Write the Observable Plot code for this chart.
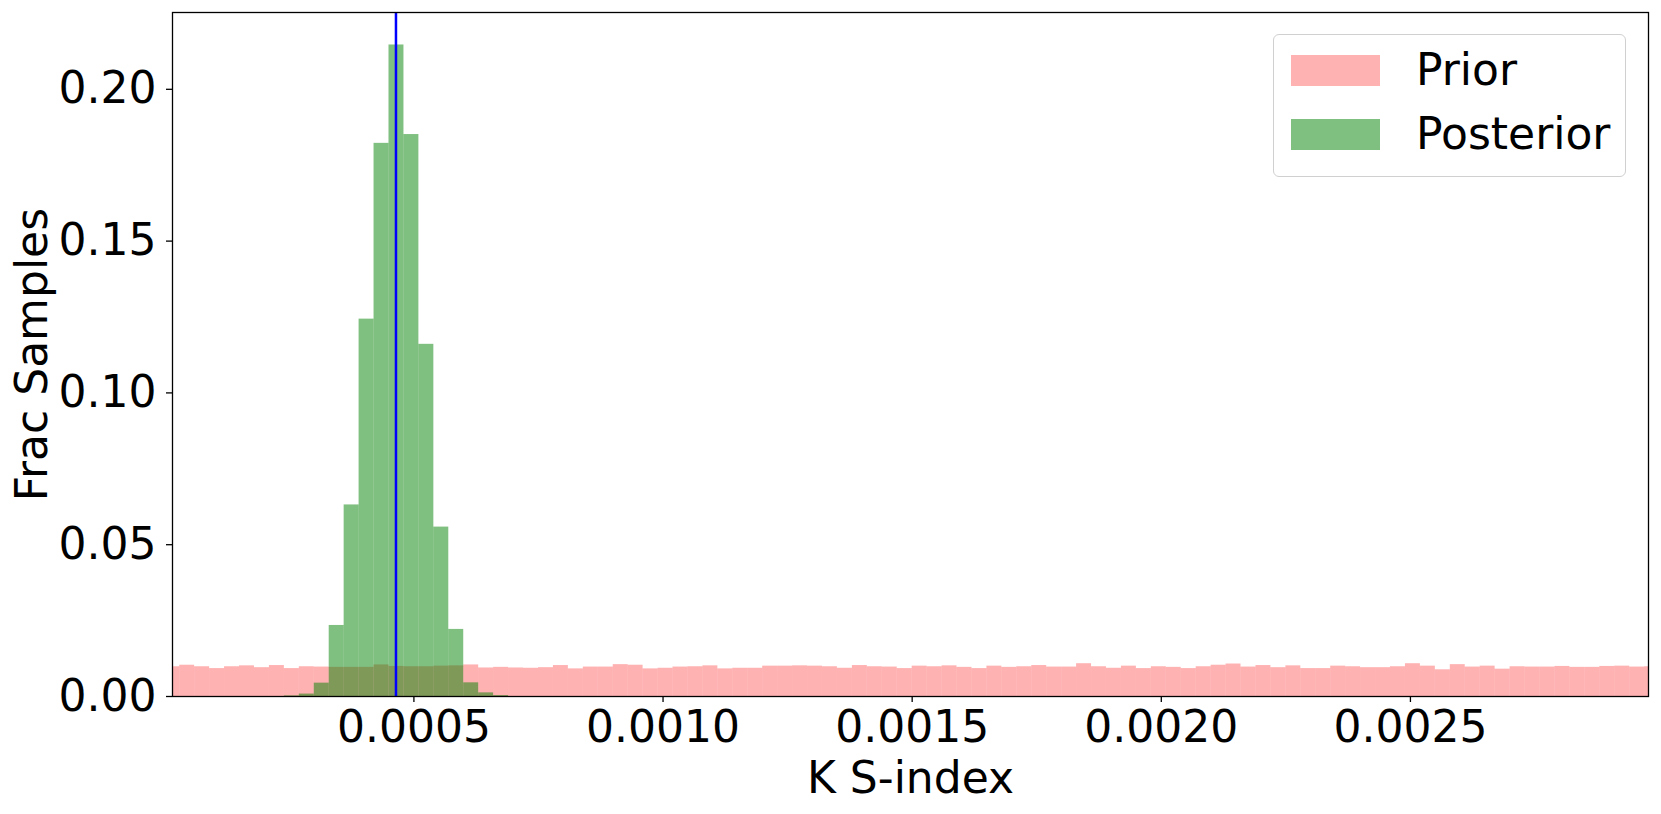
<!DOCTYPE html>
<html>
<head>
<meta charset="utf-8">
<script src="https://cdn.jsdelivr.net/npm/d3@7"></script>
<script src="https://cdn.jsdelivr.net/npm/@observablehq/plot@0.6"></script>
<style>
  html, body { margin: 0; padding: 0; background: #ffffff; }
  #wrap { position: relative; width: 1661px; height: 814px; font-family: "DejaVu Sans", sans-serif; }
  #legend { position: absolute; left: 1273px; top: 34px; width: 351px; height: 141px;
            border: 1.3px solid #d0d0d0; border-radius: 6px; background: rgba(255,255,255,0.8); }
  .sw { position: absolute; left: 17px; width: 89px; height: 31px; }
  .lt { position: absolute; left: 142px; font-size: 44px; line-height: 44px; color: #000; white-space: nowrap; }
</style>
</head>
<body>
<div id="wrap"></div>
<script>
// ---- data ----
const binWidth = 0.00003;          // histogram bin width (bins start at 0)
const xDomain = [0.0000155, 0.0029778];
const yDomain = [0, 0.2253];
const xTicks = [0.0005, 0.0010, 0.0015, 0.0020, 0.0025];
const yTicks = [0.00, 0.05, 0.10, 0.15, 0.20];
const trueValue = 0.000464;
const xLabel = "K S-index";
const yLabel = "Frac Samples";
const seriesNames = ["Prior", "Posterior"];

// Prior: fraction of samples per bin, bins 0..99
const priorFrac = [
  0.0098, 0.0103, 0.0098, 0.0092, 0.0098, 0.0101, 0.0095, 0.0102, 0.0092, 0.0098,
  0.0097, 0.0096, 0.0096, 0.0096, 0.0104, 0.0099, 0.0098, 0.0098, 0.0100, 0.0101,
  0.0104, 0.0094, 0.0096, 0.0094, 0.0093, 0.0095, 0.0102, 0.0091, 0.0097, 0.0097,
  0.0105, 0.0103, 0.0091, 0.0093, 0.0097, 0.0098, 0.0101, 0.0091, 0.0093, 0.0093,
  0.0100, 0.0100, 0.0101, 0.0100, 0.0098, 0.0093, 0.0102, 0.0098, 0.0097, 0.0092,
  0.0100, 0.0098, 0.0101, 0.0096, 0.0092, 0.0100, 0.0096, 0.0098, 0.0102, 0.0097,
  0.0097, 0.0108, 0.0098, 0.0093, 0.0100, 0.0092, 0.0098, 0.0096, 0.0092, 0.0098,
  0.0103, 0.0107, 0.0097, 0.0102, 0.0095, 0.0101, 0.0092, 0.0092, 0.0100, 0.0098,
  0.0095, 0.0095, 0.0098, 0.0108, 0.0100, 0.0088, 0.0105, 0.0097, 0.0100, 0.0090,
  0.0098, 0.0097, 0.0097, 0.0099, 0.0096, 0.0096, 0.0099, 0.0100, 0.0097, 0.0098
];
// Posterior: fraction of samples per bin, starting at bin index 8
const posteriorStartBin = 8;
const posteriorFrac = [
  0.0002, 0.0008, 0.0044, 0.0234, 0.0631, 0.1243, 0.1822, 0.2146,
  0.1851, 0.1160, 0.0558, 0.0221, 0.0045, 0.0012, 0.0003
];

// ---- build tables ----
const priorRows = priorFrac.map((f, i) => ({x1: i * binWidth, x2: (i + 1) * binWidth, frac: f}));
const postRows = posteriorFrac.map((f, j) => {
  const i = posteriorStartBin + j;
  return {x1: i * binWidth, x2: (i + 1) * binWidth, frac: f};
});

const chart = Plot.plot({
  width: 1661,
  height: 814,
  marginLeft: 172,
  marginRight: 13,
  marginTop: 12,
  marginBottom: 118,
  style: {fontFamily: "DejaVu Sans", fontSize: "44px", background: "#ffffff", color: "#000000", overflow: "visible"},
  x: {domain: xDomain},
  y: {domain: yDomain},
  marks: [
    Plot.rect(priorRows, {x1: "x1", x2: "x2", y1: 0, y2: "frac", fill: "#ff0000", fillOpacity: 0.3, clip: true}),
    Plot.rect(postRows, {x1: "x1", x2: "x2", y1: 0, y2: "frac", fill: "#008000", fillOpacity: 0.5, clip: true}),
    Plot.ruleX([trueValue], {stroke: "#0000ff", strokeWidth: 2.5}),
    Plot.frame({stroke: "#000000", strokeWidth: 1.3}),
    Plot.axisX({ticks: xTicks, tickFormat: d3.format(".4f"), tickSize: 6, tickPadding: 8, label: null, strokeWidth: 1.3}),
    Plot.axisY({ticks: yTicks, tickFormat: d3.format(".2f"), tickSize: 6, tickPadding: 10, label: null, strokeWidth: 1.3}),
    Plot.text([xLabel], {frameAnchor: "bottom", dy: 82, text: d => d, fontSize: 44, textAnchor: "middle", lineAnchor: "middle", fill: "#000"}),
    Plot.text([yLabel], {frameAnchor: "left", dx: -140, text: d => d, rotate: -90, fontSize: 44, textAnchor: "middle", lineAnchor: "middle", fill: "#000"})
  ]
});

const wrap = document.getElementById("wrap");
wrap.appendChild(chart);

// legend (inside the plot area, upper right)
const legend = document.createElement("div");
legend.id = "legend";
const entries = [
  {name: seriesNames[0], color: "rgba(255,0,0,0.3)", top: 20, textTop: 13},
  {name: seriesNames[1], color: "rgba(0,128,0,0.5)", top: 84, textTop: 77}
];
for (const e of entries) {
  const sw = document.createElement("div");
  sw.className = "sw";
  sw.style.top = e.top + "px";
  sw.style.background = e.color;
  legend.appendChild(sw);
  const t = document.createElement("div");
  t.className = "lt";
  t.style.top = e.textTop + "px";
  t.textContent = e.name;
  legend.appendChild(t);
}
wrap.appendChild(legend);
</script>
</body>
</html>
